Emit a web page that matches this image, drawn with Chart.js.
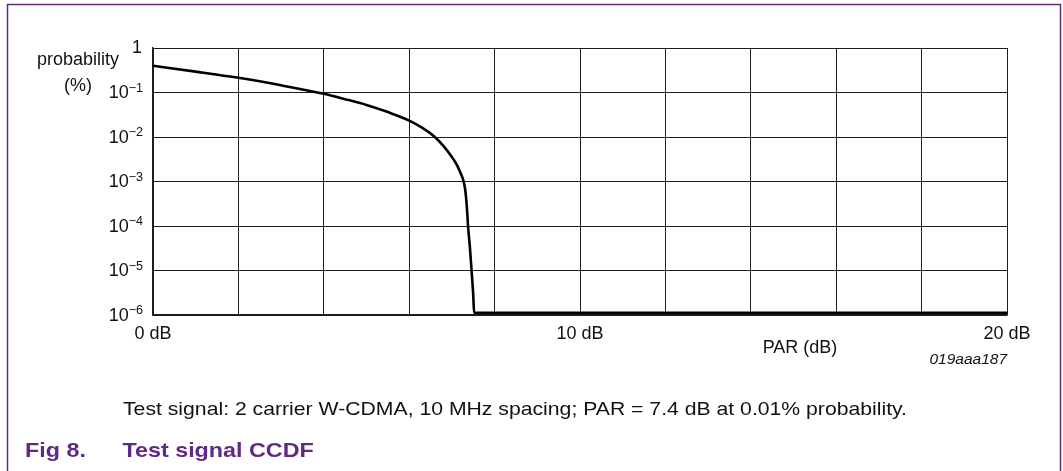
<!DOCTYPE html>
<html>
<head>
<meta charset="utf-8">
<script src="https://cdn.jsdelivr.net/npm/chart.js@4.4.1/dist/chart.umd.min.js"></script>
<style>
html,body{margin:0;padding:0;background:#fff;}
#wrap{position:relative;width:1063px;height:471px;overflow:hidden;}
canvas{position:absolute;left:0;top:0;}
</style>
</head>
<body>
<div id="wrap"><canvas id="c" width="1063" height="471"></canvas></div>
<script>
// ---- data ----
const parDb = [0, 1, 2, 3, 4, 4.5, 5, 5.5, 6, 6.3, 6.6, 6.8, 7.0, 7.1, 7.2, 7.25, 7.29, 7.32, 7.35, 7.38, 7.42, 7.46, 7.5, 7.52, 20];
const probability = [0.398, 0.295, 0.214, 0.145, 0.0933, 0.0708, 0.0525, 0.0363, 0.0234, 0.0162, 0.010, 0.0063, 0.00355, 0.00251, 0.00158, 0.0012, 0.00087, 0.00056, 0.00027, 0.000095, 0.0000347, 0.0000102, 0.0000028, 0.00000112, 0.00000112];
const yTickExponents = [0, -1, -2, -3, -4, -5, -6];
const xGridValues = [0, 2, 4, 6, 8, 10, 12, 14, 16, 18, 20];
const xLabelValues = [0, 10, 20];
const xLabelTexts = ['0 dB', '10 dB', '20 dB'];
const yAxisTitle = ['probability', '(%)'];
const xAxisTitle = 'PAR (dB)';
const figCode = '019aaa187';
const captionText = 'Test signal: 2 carrier W-CDMA, 10 MHz spacing; PAR = 7.4 dB at 0.01% probability.';
const figNumber = 'Fig 8.';
const figTitle = 'Test signal CCDF';

const FONT = '"Liberation Sans", Arial, sans-serif';
const PURPLE = '#5f2a84';

function stretchedText(ctx, text, x, y, sx) {
  ctx.save();
  ctx.translate(x, y);
  ctx.scale(sx, 1);
  ctx.fillText(text, 0, 0);
  ctx.restore();
}

const decorPlugin = {
  id: 'decor',
  afterDraw(chart) {
    const ctx = chart.ctx;
    const xs = chart.scales.x, ys = chart.scales.y;
    ctx.save();
    // frame
    ctx.strokeStyle = PURPLE;
    ctx.lineWidth = 1.5;
    ctx.beginPath();
    ctx.moveTo(7.5, 471); ctx.lineTo(7.5, 4.5); ctx.lineTo(1060.5, 4.5); ctx.lineTo(1060.5, 471);
    ctx.stroke();

    ctx.fillStyle = '#111';
    // y tick labels
    yTickExponents.forEach(e => {
      const y = ys.getPixelForValue(Math.pow(10, e));
      const right = 143;
      if (e === 0) {
        ctx.font = '18px ' + FONT;
        ctx.textAlign = 'right';
        ctx.textBaseline = 'alphabetic';
        ctx.fillText('1', right - 1, y + 5);
      } else {
        ctx.font = '12.5px ' + FONT;
        const sup = '\u2212' + String(-e);
        const sw = ctx.measureText(sup).width;
        ctx.textAlign = 'left';
        ctx.textBaseline = 'alphabetic';
        ctx.fillText(sup, right - sw, y - 1);
        ctx.font = '18px ' + FONT;
        ctx.textAlign = 'right';
        ctx.fillText('10', right - sw, y + 5.5);
      }
    });
    // y axis title
    ctx.font = '18px ' + FONT;
    ctx.textAlign = 'center';
    ctx.fillText(yAxisTitle[0], 78, 65);
    ctx.fillText(yAxisTitle[1], 78, 91);

    // x tick labels
    const bottom = chart.chartArea.bottom;
    xLabelValues.forEach((v, i) => {
      const x = xs.getPixelForValue(v);
      ctx.textAlign = 'center';
      ctx.fillText(xLabelTexts[i], x, bottom + 23.5);
    });
    // x axis title
    ctx.fillText(xAxisTitle, 800, bottom + 37.5);
    // figure code
    ctx.font = 'italic 15.5px ' + FONT;
    ctx.textAlign = 'right';
    ctx.fillText(figCode, chart.chartArea.right, bottom + 48.5);

    // caption
    ctx.font = '18.6px ' + FONT;
    ctx.textAlign = 'left';
    stretchedText(ctx, captionText, 123, 414.5, 1.14);
    // figure title
    ctx.fillStyle = PURPLE;
    ctx.font = 'bold 21px ' + FONT;
    stretchedText(ctx, figNumber, 25, 456.5, 1.11);
    stretchedText(ctx, figTitle, 122.5, 456.5, 1.11);
    ctx.restore();
  }
};

const gridColor = '#1c1c1c';
new Chart(document.getElementById('c'), {
  type: 'line',
  data: {
    datasets: [{
      data: parDb.map((x, i) => ({ x: x, y: probability[i] })),
      borderColor: '#000',
      borderWidth: 2.6,
      pointRadius: 0,
      fill: false,
      cubicInterpolationMode: 'monotone'
    }]
  },
  options: {
    responsive: false,
    animation: false,
    devicePixelRatio: 1,
    layout: { padding: { left: 153, top: 48, right: 56, bottom: 156 } },
    plugins: { legend: { display: false }, tooltip: { enabled: false } },
    scales: {
      x: {
        type: 'linear', min: 0, max: 20,
        afterBuildTicks: s => { s.ticks = xGridValues.map(v => ({ value: v })); },
        ticks: { display: false },
        grid: { color: gridColor, lineWidth: 1, drawTicks: false },
        border: { display: true, color: '#1c1c1c', width: 1.5 }
      },
      y: {
        type: 'logarithmic', min: 1e-6, max: 1,
        afterBuildTicks: s => { s.ticks = yTickExponents.map(e => ({ value: Math.pow(10, e) })); },
        ticks: { display: false },
        grid: { color: gridColor, lineWidth: 1, drawTicks: false },
        border: { display: true, color: '#1c1c1c', width: 1.5 }
      }
    }
  },
  plugins: [decorPlugin]
});
</script>
</body>
</html>
